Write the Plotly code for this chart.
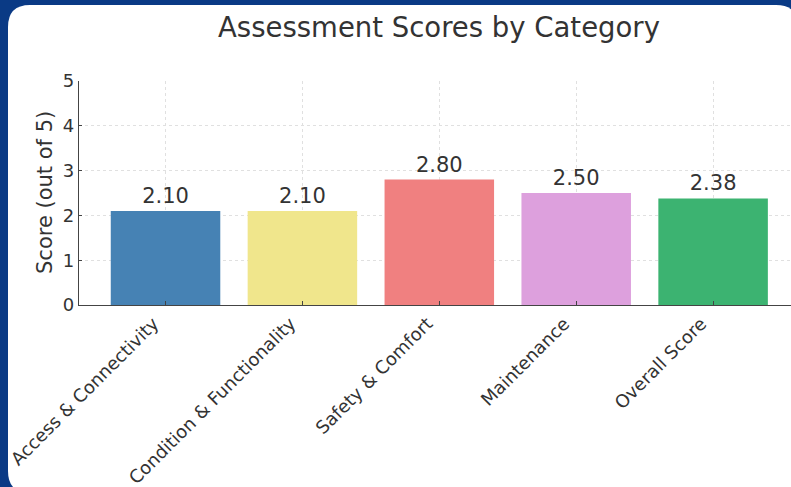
import plotly.graph_objects as go

categories = [
    "Access & Connectivity",
    "Condition & Functionality",
    "Safety & Comfort",
    "Maintenance",
    "Overall Score",
]
scores = [2.10, 2.10, 2.80, 2.50, 2.38]
bar_colors = ["#4682B4", "#F0E68C", "#F08080", "#DDA0DD", "#3CB371"]
y_ticks = [0, 1, 2, 3, 4, 5]

W, H = 791, 487
L, R, T, B = 79, 0, 81, 182
pw, ph = W - L - R, H - T - B


def px(x):
    return (x - L) / pw


def py(y):
    return (H - B - y) / ph


def rounded_panel(x0, y0, x1, y1, r):
    pts = [
        f"M {px(x0 + r)},{py(y0)}",
        f"L {px(x1 - r)},{py(y0)}",
        f"Q {px(x1)},{py(y0)} {px(x1)},{py(y0 + r)}",
        f"L {px(x1)},{py(y1 - r)}",
        f"Q {px(x1)},{py(y1)} {px(x1 - r)},{py(y1)}",
        f"L {px(x0 + r)},{py(y1)}",
        f"Q {px(x0)},{py(y1)} {px(x0)},{py(y1 - r)}",
        f"L {px(x0)},{py(y0 + r)}",
        f"Q {px(x0)},{py(y0)} {px(x0 + r)},{py(y0)}",
        "Z",
    ]
    return " ".join(pts)


font = "DejaVu Sans, sans-serif"
txt = "#333333"

fig = go.Figure(
    go.Bar(
        x=categories,
        y=scores,
        marker=dict(color=bar_colors, line=dict(width=0)),
        width=0.8,
        text=[f"{v:.2f}" for v in scores],
        textposition="outside",
        textfont=dict(size=21, color=txt, family=font),
        cliponaxis=False,
    )
)

# white rounded card behind the chart
fig.add_shape(
    type="path",
    path=rounded_panel(8, 5, 798, 493, 22),
    xref="paper",
    yref="paper",
    fillcolor="white",
    line=dict(width=0),
    layer="below",
)

fig.add_annotation(
    text="Score (out of 5)",
    x=px(45),
    y=0.5,
    xref="paper",
    yref="paper",
    xanchor="center",
    yanchor="middle",
    textangle=-90,
    showarrow=False,
    font=dict(size=21, color=txt, family=font),
)

fig.update_layout(
    width=W,
    height=H,
    margin=dict(l=L, r=R, t=T, b=B),
    paper_bgcolor="#0a3a85",
    plot_bgcolor="rgba(0,0,0,0)",
    showlegend=False,
    title=dict(
        text="Assessment Scores by Category",
        x=px(439),
        xref="paper",
        xanchor="center",
        y=1 - 27 / H,
        yanchor="middle",
        font=dict(size=27.5, color=txt, family=font),
    ),
    font=dict(family=font, color=txt),
)

fig.update_xaxes(
    range=[-0.632, 4.569],
    tickangle=-45,
    tickfont=dict(size=18, color=txt),
    ticklabelshift=-12,
    showline=True,
    linecolor="#444",
    linewidth=1.2,
    ticks="inside",
    ticklen=4,
    tickcolor="#444",
    showgrid=True,
    gridcolor="#e0e0e0",
    griddash="dot",
    gridwidth=1,
    automargin=False,
)
fig.update_yaxes(
    range=[0, 5],
    tickvals=y_ticks,
    tickfont=dict(size=18, color=txt),
    showline=True,
    linecolor="#444",
    linewidth=1.2,
    ticks="inside",
    ticklen=3,
    tickcolor="#444",
    showgrid=True,
    gridcolor="#e0e0e0",
    griddash="dot",
    gridwidth=1,
    zeroline=False,
    automargin=False,
)

fig.write_html(
    "out.html",
    config={"displayModeBar": False},
    post_script="document.body.style.margin='0px';document.body.style.overflow='hidden';",
)
